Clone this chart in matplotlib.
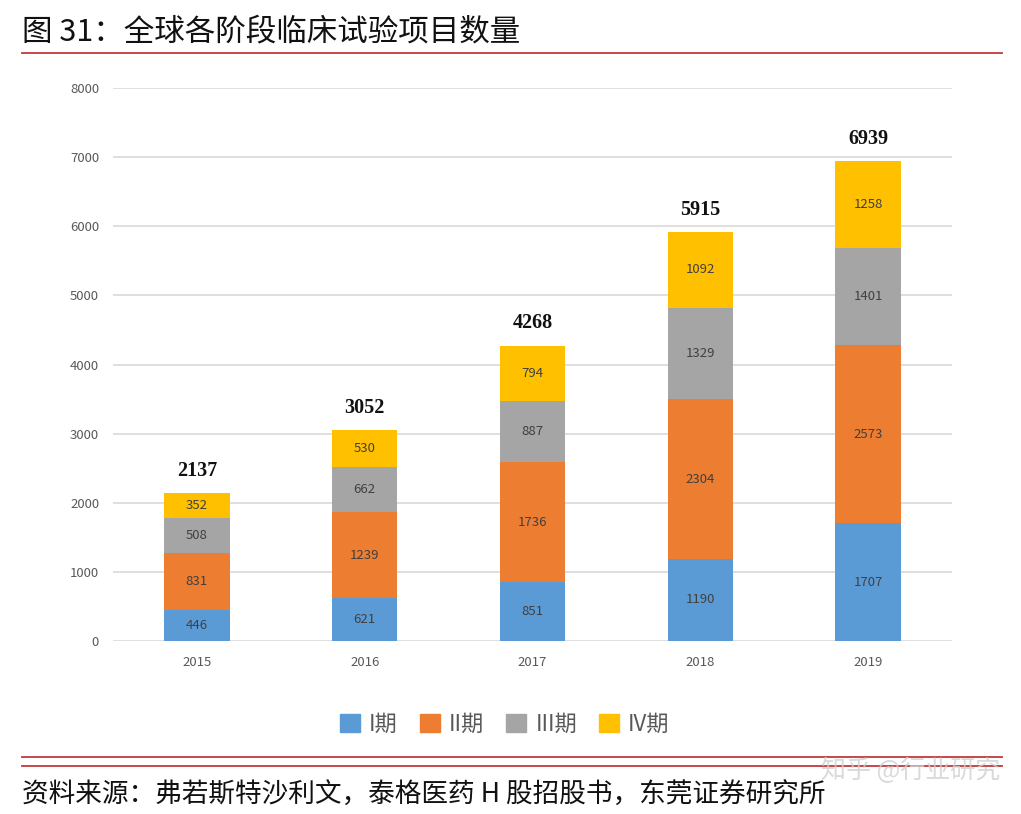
import matplotlib
matplotlib.use("Agg")
import matplotlib.pyplot as plt
from matplotlib.lines import Line2D
from matplotlib.patches import Patch
import numpy as np

plt.rcParams['font.family'] = ['Noto Sans CJK SC', 'DejaVu Sans']

years = ["2015", "2016", "2017", "2018", "2019"]
phase1 = [446, 621, 851, 1190, 1707]
phase2 = [831, 1239, 1736, 2304, 2573]
phase3 = [508, 662, 887, 1329, 1401]
phase4 = [352, 530, 794, 1092, 1258]
totals = [2137, 3052, 4268, 5915, 6939]
series_names = ["I期", "II期", "III期", "IV期"]
colors = ["#5B9BD5", "#ED7D31", "#A5A5A5", "#FFC000"]
title = "图 31：全球各阶段临床试验项目数量"
source = "资料来源：弗若斯特沙利文，泰格医药 H 股招股书，东莞证券研究所"

W, H = 1021, 814
fig = plt.figure(figsize=(W / 100, H / 100), dpi=100)

ax = fig.add_axes([113 / W, (H - 641) / H, 839 / W, 553 / H])
x = np.arange(len(years))
bottom = np.zeros(len(years))
for vals, col in zip([phase1, phase2, phase3, phase4], colors):
    ax.bar(x, vals, width=0.39, bottom=bottom, color=col, zorder=3)
    for xi, b, v in zip(x, bottom, vals):
        ax.text(xi, b + v / 2, str(v), ha="center", va="center",
                fontsize=9.5, color="#404040", zorder=4)
    bottom += np.array(vals)

for xi, t in zip(x, totals):
    ax.annotate(str(t), (xi, t), xytext=(0, 9), textcoords="offset points",
                ha="center", va="bottom", fontsize=14.5, fontweight="bold",
                family="Liberation Serif", color="#111111")

ax.set_xlim(-0.5, len(years) - 0.5)
ax.set_ylim(0, 8000)
ax.set_yticks(range(0, 8001, 1000))
ax.set_xticks(x)
ax.set_xticklabels(years)
ax.tick_params(axis="both", length=0, labelsize=9.5, labelcolor="#595959")
ax.tick_params(axis="x", pad=11)
ax.tick_params(axis="y", pad=10)
ax.grid(axis="y", color="#D9D9D9", linewidth=1.2, zorder=0)
for s in ax.spines.values():
    s.set_visible(False)

handles = [Patch(color=c) for c in colors]
fig.legend(handles, series_names, loc="center", bbox_to_anchor=(505 / W, (H - 724) / H),
           ncol=4, frameon=False, fontsize=16, handlelength=0.9, handleheight=0.9,
           handletextpad=0.4, columnspacing=1.0, labelcolor="#595959")

# header / footer
fig.text(22 / W, (H - 32) / H, title, fontsize=22, va="center", ha="left", color="#111111")
fig.add_artist(Line2D([22 / W, 1002 / W], [(H - 53) / H] * 2, color="#C0393B", lw=1.3))
fig.add_artist(Line2D([22 / W, 1002 / W], [(H - 757) / H] * 2, color="#C0393B", lw=1.3))
fig.add_artist(Line2D([22 / W, 1002 / W], [(H - 766) / H] * 2, color="#C0393B", lw=1.3))
fig.text(22 / W, (H - 795) / H, source, fontsize=19.2, va="center", ha="left", color="#111111")
fig.text(1000 / W, (H - 771) / H, "知乎 @行业研究", fontsize=18, va="center", ha="right",
         color="#D0D0D0", alpha=0.8)

fig.savefig("out.png", dpi=100, facecolor="white")
